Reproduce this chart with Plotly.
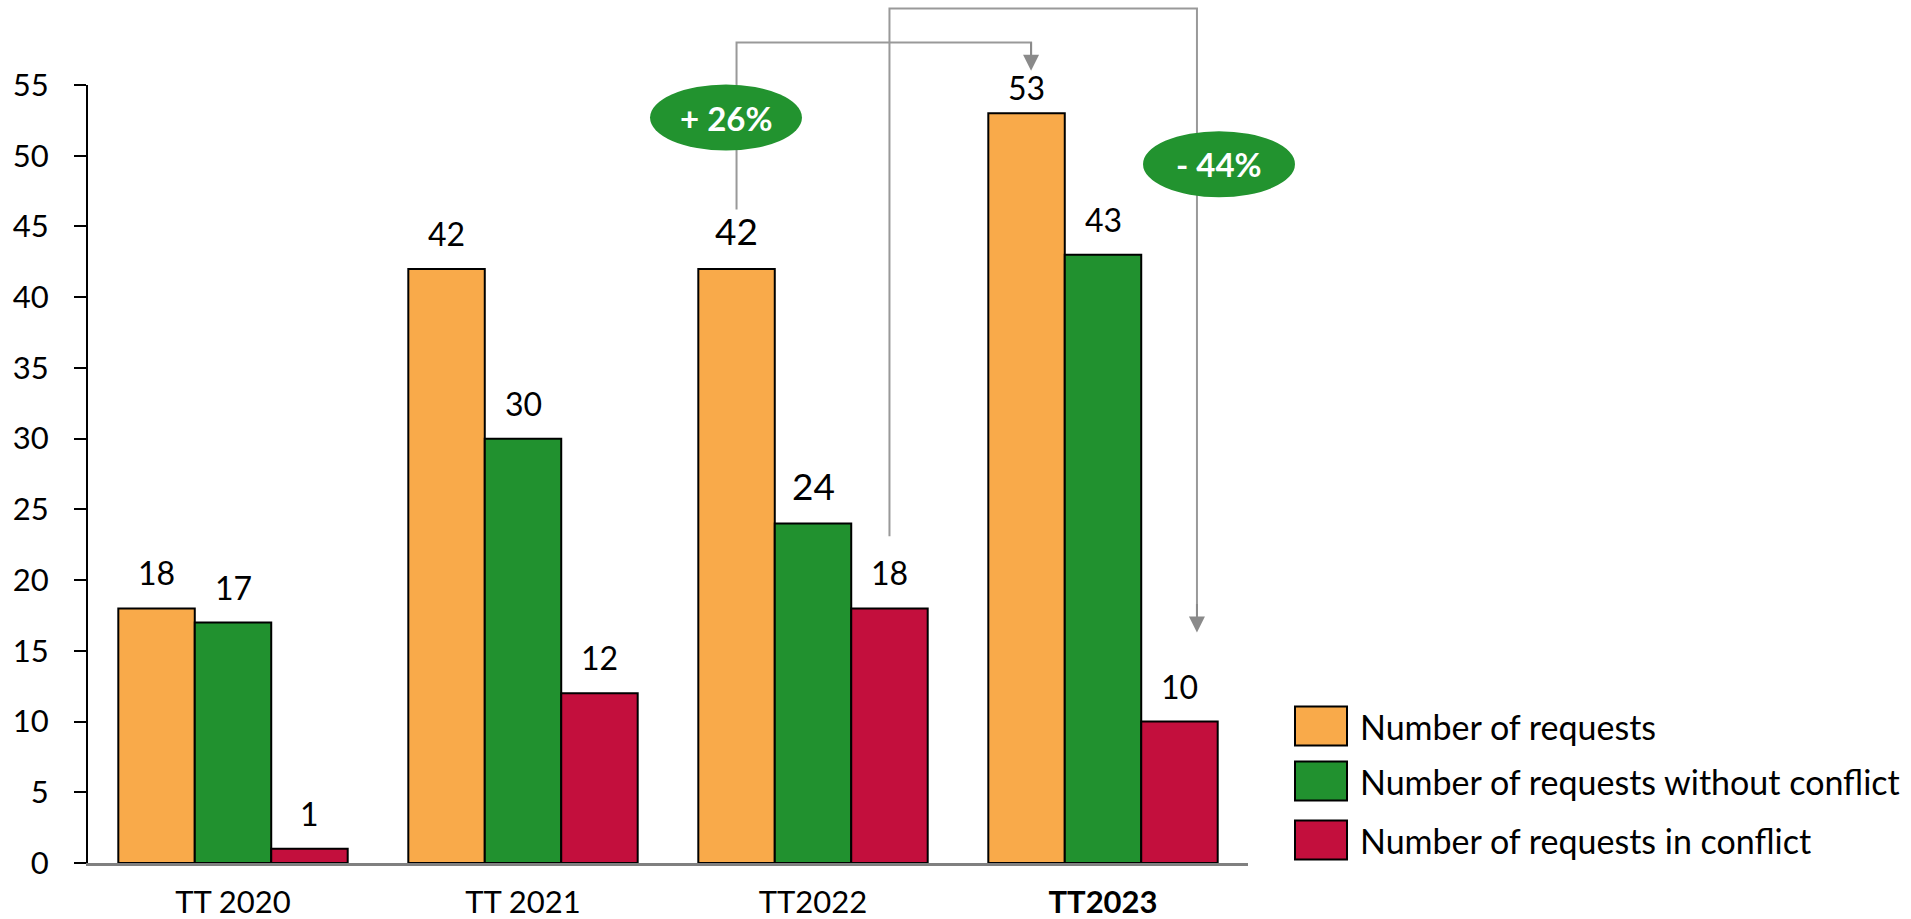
import plotly.graph_objects as go

# ---------------- data ----------------
categories = ["TT 2020", "TT 2021", "TT2022", "TT2023"]
tick_labels = ["TT 2020", "TT 2021", "TT2022", "<b>TT2023</b>"]
series_names = [
    "Number of requests",
    "Number of requests without conflict",
    "Number of requests in conflict",
]
requests_total = [18, 42, 42, 53]
requests_without_conflict = [17, 30, 24, 43]
requests_in_conflict = [1, 12, 18, 10]
series_values = [requests_total, requests_without_conflict, requests_in_conflict]

change_labels = ["+ 26%", "- 44%"]

# ---------------- style ----------------
colors = ["#F9AA4A", "#21912F", "#C30F3D"]
FONT = "Lato"
Y_MAX = 55
BARGAP = 0.209
BW = (1 - BARGAP) / 3          # bar width in category units
LABEL_SIZE = 32
BIG_LABEL_SIZE = 37
big_labels = {(0, 2), (1, 2)}  # (series, category) printed larger
close_labels = {(0, 3)}        # labels sitting closer to the bar
LINE_GRAY = "#999999"
ARROW_GRAY = "#8a8a8a"
ELLIPSE_GREEN = "#22932F"

W, H = 1911, 919
ML, MR, MT, MB = 88, 663, 85, 56
PW, PH = W - ML - MR, H - MT - MB


def xp(idx):
    """category index -> paper x"""
    return (idx + 0.5) / len(categories)


def yp(v):
    """data value -> paper y"""
    return v / Y_MAX


def pxx(px):
    return (px - ML) / PW


def pxy(py):
    return (H - MB - py) / PH


fig = go.Figure()
for name, vals, col in zip(series_names, series_values, colors):
    fig.add_trace(go.Bar(
        x=categories, y=vals, name=name,
        marker=dict(color=col, line=dict(color="black", width=2)),
        showlegend=False, hoverinfo="x+y+name",
    ))

annotations = []
shapes = []

# value labels
for k, vals in enumerate(series_values):
    for i, v in enumerate(vals):
        annotations.append(dict(
            x=i + (k - 1) * BW, y=v, xref="x", yref="y",
            text=str(v), showarrow=False, xanchor="center", yanchor="bottom",
            yshift=4 if (k, i) in close_labels else 14,
            font=dict(family=FONT, size=BIG_LABEL_SIZE if (k, i) in big_labels else LABEL_SIZE,
                      color="black"),
        ))

# connectors (category index, value units)
inner = [(2 - BW, 46.2), (2 - BW, 58.0), (2.752, 58.0), (2.752, 57.0)]
outer = [(2 + BW, 23.1), (2 + BW, 60.4), (3.324, 60.4), (3.324, 17.5)]
for pts in (inner, outer):
    path = "M " + " L ".join(f"{xp(a):.5f},{yp(b):.5f}" for a, b in pts)
    shapes.append(dict(type="path", path=path, xref="paper", yref="paper",
                       line=dict(color=LINE_GRAY, width=2)))

# arrow heads
for (ax_, tip) in ((2.752, 56.0), (3.324, 16.3)):
    annotations.append(dict(
        x=xp(ax_), y=yp(tip), xref="paper", yref="paper", text="",
        showarrow=True, arrowhead=2, arrowsize=1.6, arrowwidth=2,
        arrowcolor=ARROW_GRAY, ax=0, ay=-30, standoff=0,
    ))

# ellipses with change labels
ell_centers = [(1.70, 52.7), (3.40, 49.4)]
EW, EH = 0.524, 4.67
for (cx, cy), txt in zip(ell_centers, change_labels):
    shapes.append(dict(type="circle", xref="paper", yref="paper",
                       x0=xp(cx - EW / 2), x1=xp(cx + EW / 2),
                       y0=yp(cy - EH / 2), y1=yp(cy + EH / 2),
                       fillcolor=ELLIPSE_GREEN, line=dict(width=0)))
    annotations.append(dict(x=xp(cx), y=yp(cy), xref="paper", yref="paper",
                            xanchor="center", yanchor="middle",
                            text=f"<b>{txt}</b>", showarrow=False,
                            font=dict(family=FONT, size=33, color="white")))

# manual legend
legend_rows_px = [726, 781, 840]
for name, col, rowy in zip(series_names, colors, legend_rows_px):
    shapes.append(dict(type="rect", xref="paper", yref="paper",
                       x0=pxx(1295), x1=pxx(1347), y0=pxy(rowy + 19.5), y1=pxy(rowy - 19.5),
                       fillcolor=col, line=dict(color="black", width=2)))
    annotations.append(dict(x=pxx(1358), y=pxy(rowy), xref="paper", yref="paper",
                            text=name, showarrow=False, xanchor="left", yanchor="middle",
                            font=dict(family=FONT, size=34, color="black")))

fig.update_layout(
    width=W, height=H,
    margin=dict(l=ML, r=MR, t=MT, b=MB, autoexpand=False),
    paper_bgcolor="white", plot_bgcolor="white",
    barmode="group", bargap=BARGAP, bargroupgap=0,
    font=dict(family=FONT, color="black"),
    shapes=shapes, annotations=annotations,
    xaxis=dict(tickvals=categories, ticktext=tick_labels, showline=True,
               linecolor="#808080", linewidth=2.5, ticks="", showgrid=False,
               tickfont=dict(family=FONT, size=31, color="black"),
               ticklabelstandoff=10, automargin=False),
    yaxis=dict(range=[0, Y_MAX], tickmode="linear", tick0=0, dtick=5,
               ticks="outside", ticklen=12, tickwidth=2, tickcolor="black",
               showline=True, linecolor="black", linewidth=2, showgrid=False,
               zeroline=False, tickfont=dict(family=FONT, size=31, color="black"),
               ticklabelstandoff=19, automargin=False),
)

fig.write_html("out.html")
